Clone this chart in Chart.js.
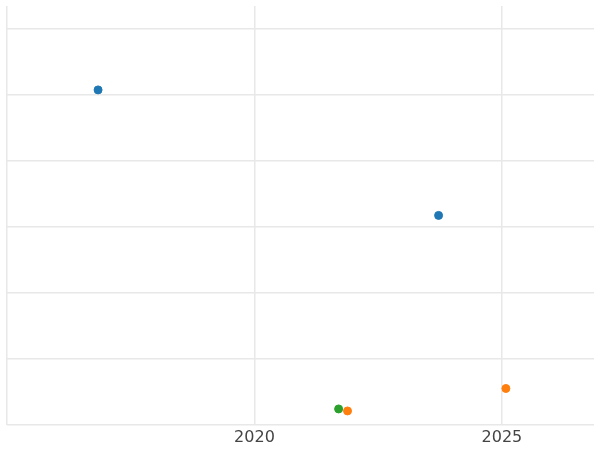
<!DOCTYPE html>
<html>
<head>
<meta charset="utf-8">
<script src="https://cdn.jsdelivr.net/npm/chart.js@4"></script>
<style>
  body { margin: 0; background: #fff; }
  #wrap { width: 600px; height: 450px; }
</style>
</head>
<body>
<div id="wrap"><canvas id="grafica"></canvas></div>
<script>
// data (y axis has no labels, units arbitrary)
const serieAzul = [{ x: 2016.84, y: 5.07 }, { x: 2023.72, y: 3.17 }];
const serieNaranja = [{ x: 2025.08, y: 0.55 }, { x: 2021.88, y: 0.21 }];
const serieVerde = [{ x: 2021.7, y: 0.24 }];
const ticksX = [2020, 2025];
const gridX = [2015, 2020, 2025];
const gridY = [0, 1, 2, 3, 4, 5, 6];

const colores = ['#1f77b4', '#ff7f0e', '#2ca02c'];

new Chart(document.getElementById('grafica'), {
  type: 'scatter',
  data: {
    datasets: [
      { data: serieAzul, backgroundColor: colores[0], borderColor: colores[0] },
      { data: serieNaranja, backgroundColor: colores[1], borderColor: colores[1] },
      { data: serieVerde, backgroundColor: colores[2], borderColor: colores[2] }
    ]
  },
  options: {
    responsive: true,
    maintainAspectRatio: false,
    animation: false,
    layout: { padding: { left: 7, top: 0, right: -6, bottom: 0 } },
    elements: { point: { radius: 4, hoverRadius: 5 } },
    plugins: { legend: { display: false }, tooltip: { enabled: false } },
    scales: {
      x: {
        type: 'linear',
        min: 2015,
        max: 2026.86,
        border: { display: false },
        afterBuildTicks: axis => { axis.ticks = gridX.map(v => ({ value: v })); },
        ticks: {
          color: '#444',
          font: { family: 'DejaVu Sans', size: 16 },
          callback: v => ticksX.includes(v) ? String(v) : ''
        },
        grid: { color: '#e8e8e8', lineWidth: 1.5, drawTicks: false }
      },
      y: {
        min: 0,
        max: 6.34,
        border: { display: false },
        afterBuildTicks: axis => { axis.ticks = gridY.map(v => ({ value: v })); },
        ticks: { display: false },
        grid: { color: '#e8e8e8', lineWidth: 1.5, drawTicks: false }
      }
    }
  }
});
</script>
</body>
</html>
